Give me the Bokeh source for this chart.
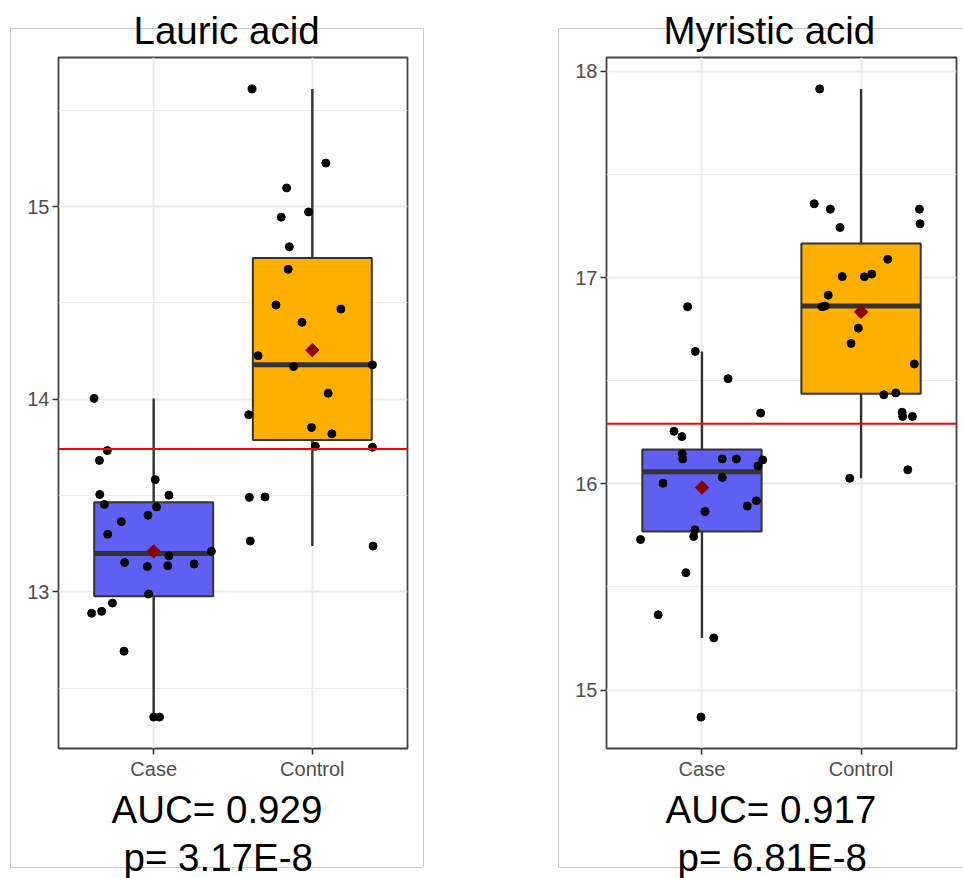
import numpy as np
from bokeh.plotting import figure
from bokeh.layouts import row
from bokeh.models import (FixedTicker, Span, Title, Range1d, ColumnDataSource)
from bokeh.embed import file_html
from bokeh.resources import INLINE

# ---------------- data ----------------
groups = ["Case", "Control"]

lauric_case = [14.004, 13.733, 13.682, 13.582, 13.505, 13.501, 13.453, 13.440,
               13.397, 13.364, 13.298, 13.210, 13.186, 13.152, 13.144, 13.131,
               13.135, 12.988, 12.941, 12.898, 12.888, 12.691, 12.349, 12.349]
lauric_case_jitter = [-0.376, -0.292, -0.342, 0.010, -0.340, 0.096, -0.311, 0.018,
                      -0.036, -0.204, -0.290, 0.364, 0.096, -0.183, 0.255, -0.040,
                      0.089, -0.032, -0.260, -0.328, -0.391, -0.187, 0.000, 0.037]
lauric_control = [15.611, 15.226, 15.097, 14.945, 14.972, 14.791, 14.674, 14.489,
                  14.468, 14.399, 14.226, 14.169, 14.178, 14.031, 13.919, 13.853,
                  13.820, 13.755, 13.750, 13.490, 13.492, 13.263, 13.237]
lauric_control_jitter = [-0.380, 0.085, -0.162, -0.196, -0.024, -0.145, -0.152, -0.229,
                         0.180, -0.065, -0.342, -0.118, 0.379, 0.100, -0.401, -0.005,
                         0.123, 0.019, 0.379, -0.397, -0.298, -0.391, 0.383]
lauric_cutoff = 13.741

myristic_case = [16.859, 16.642, 16.510, 16.343, 16.255, 16.229, 16.145, 16.121,
                 16.121, 16.121, 16.116, 16.087, 16.031, 16.003, 15.892, 15.918,
                 15.866, 15.777, 15.745, 15.730, 15.569, 15.365, 15.253, 14.869]
myristic_case_jitter = [-0.090, -0.042, 0.164, 0.369, -0.176, -0.126, -0.124, -0.121,
                        0.128, 0.216, 0.382, 0.352, 0.128, -0.245, 0.285, 0.342,
                        0.019, -0.044, -0.052, -0.386, -0.101, -0.275, 0.074, -0.006]
myristic_control = [17.915, 17.358, 17.332, 17.243, 17.332, 17.261, 17.089, 17.005,
                    17.004, 17.017, 16.915, 16.859, 16.862, 16.755, 16.681, 16.581,
                    16.432, 16.441, 16.347, 16.327, 16.327, 16.027, 16.068]
myristic_control_jitter = [-0.260, -0.294, -0.193, -0.132, 0.367, 0.371, 0.168, -0.118,
                           0.021, 0.067, -0.206, -0.245, -0.226, -0.017, -0.063, 0.335,
                           0.143, 0.218, 0.258, 0.262, 0.323, -0.071, 0.294]
myristic_cutoff = 16.291

lauric_ticks = [13, 14, 15]
lauric_minor = [12.5, 13.5, 14.5, 15.5]
myristic_ticks = [15, 16, 17, 18]
myristic_minor = [14.5, 15.5, 16.5, 17.5]

titles = ["Lauric acid", "Myristic acid"]
auc_texts = ["AUC= 0.929", "AUC= 0.917"]
p_texts = ["p= 3.17E-8", "p= 6.81E-8"]

# ---------------- style ----------------
CASE_COLOR = "#5F5FF2"
CTRL_COLOR = "#FFAF00"
DARK = "#333333"
FONT = "Liberation Sans"
BOX_WIDTH = 0.75


def gray_frame_css(x0, y0, w, h):
    g = "linear-gradient(#CCCCCC,#CCCCCC)"
    return {
        "background-color": "white",
        "background-image": ",".join([g] * 4),
        "background-size": f"{w}px 1px,{w}px 1px,1px {h}px,1px {h}px",
        "background-position": f"{x0}px {y0}px,{x0}px {y0 + h}px,{x0}px {y0}px,{x0 + w}px {y0}px",
        "background-repeat": "no-repeat",
    }


def make_panel(case_vals, case_jit, ctrl_vals, ctrl_jit, cutoff, ticks, minor,
               title, auc, pval, width, b_left, b_right, offsets, frame_css):
    allv = np.array(case_vals + ctrl_vals)
    lo, hi = allv.min(), allv.max()
    pad = 0.05 * (hi - lo)
    p = figure(width=width, height=878,
               x_range=Range1d(0.4, 2.6), y_range=Range1d(lo - pad, hi + pad),
               output_backend="svg", toolbar_location=None,
               min_border_left=b_left, min_border_right=b_right,
               min_border_top=57, min_border_bottom=130)
    p.background_fill_color = "white"
    p.border_fill_color = None
    p.border_fill_alpha = 0
    p.outline_line_color = "#444444"
    p.outline_line_width = 1.8
    p.styles = frame_css

    # axes
    p.xaxis.ticker = FixedTicker(ticks=[1, 2])
    p.xaxis.major_label_overrides = {1: groups[0], 2: groups[1]}
    p.yaxis.ticker = FixedTicker(ticks=ticks, minor_ticks=minor)
    for ax in (p.xaxis[0], p.yaxis[0]):
        ax.axis_line_color = None
        ax.major_tick_line_color = DARK
        ax.major_tick_line_width = 1.6
        ax.major_tick_out = 6
        ax.major_tick_in = 0
        ax.minor_tick_line_color = None
        ax.major_label_text_font = FONT
        ax.major_label_text_font_size = "20px"
        ax.major_label_text_color = "#4D4D4D"
        ax.major_label_standoff = 3

    # grid
    p.xgrid.grid_line_color = "#EBEBEB"
    p.xgrid.grid_line_width = 2
    p.ygrid.grid_line_color = "#EBEBEB"
    p.ygrid.grid_line_width = 2
    p.ygrid.minor_grid_line_color = "#EBEBEB"
    p.ygrid.minor_grid_line_width = 1.2

    # box statistics
    xs, q1s, meds, q3s, wlos, whis, means, fills = [], [], [], [], [], [], [], []
    for xc, vals, col in [(1, case_vals, CASE_COLOR), (2, ctrl_vals, CTRL_COLOR)]:
        v = np.array(vals)
        q1, med, q3 = np.percentile(v, [25, 50, 75])
        iqr = q3 - q1
        xs.append(xc)
        q1s.append(q1)
        meds.append(med)
        q3s.append(q3)
        wlos.append(v[v >= q1 - 1.5 * iqr].min())
        whis.append(v[v <= q3 + 1.5 * iqr].max())
        means.append(v.mean())
        fills.append(col)
    src = ColumnDataSource(dict(
        x=xs, q1=q1s, med=meds, q3=q3s, wlo=wlos, whi=whis, mean=means,
        fill=fills,
        xl=[x - BOX_WIDTH / 2 for x in xs], xr=[x + BOX_WIDTH / 2 for x in xs]))

    p.segment(x0="x", y0="q3", x1="x", y1="whi", source=src,
              line_color=DARK, line_width=2.4)
    p.segment(x0="x", y0="wlo", x1="x", y1="q1", source=src,
              line_color=DARK, line_width=2.4)
    p.vbar(x="x", width=BOX_WIDTH, top="q3", bottom="q1", source=src,
           fill_color="fill", line_color=DARK, line_width=2)
    p.segment(x0="xl", y0="med", x1="xr", y1="med", source=src,
              line_color=DARK, line_width=5)

    p.add_layout(Span(location=cutoff, dimension="width", line_color="#FF0000",
                      line_width=2))

    # jittered points
    pts = ColumnDataSource(dict(
        x=[1 + j for j in case_jit] + [2 + j for j in ctrl_jit],
        y=list(case_vals) + list(ctrl_vals)))
    p.scatter(x="x", y="y", source=pts, size=8, fill_color="black",
              line_color="black")

    # means
    p.scatter(x="x", y="mean", source=src, marker="square", angle=np.pi / 4,
              size=9.5, fill_color="#8B0000", line_color="#8B0000")

    # title and footer texts
    common = dict(text_font=FONT, text_font_size="38.5px", text_font_style="normal",
                  text_color="black", align="left")
    p.add_layout(Title(text=title, offset=offsets[0], standoff=12, **common), "above")
    p.add_layout(Title(text=auc, offset=offsets[1], standoff=6, **common), "below")
    p.add_layout(Title(text=pval, offset=offsets[2], standoff=0, **common), "below")
    return p


p1 = make_panel(lauric_case, lauric_case_jitter, lauric_control, lauric_control_jitter,
                lauric_cutoff, lauric_ticks, lauric_minor,
                titles[0], auc_texts[0], p_texts[0],
                width=490, b_left=58, b_right=83, offsets=(75, 53, 65),
                frame_css=gray_frame_css(10, 28, 413, 839))
p2 = make_panel(myristic_case, myristic_case_jitter, myristic_control,
                myristic_control_jitter, myristic_cutoff, myristic_ticks, myristic_minor,
                titles[1], auc_texts[1], p_texts[1],
                width=473, b_left=116, b_right=7, offsets=(57, 59, 71),
                frame_css=gray_frame_css(68, 28, 420, 839))

layout = row(p1, p2)
open("out.html", "w").write(file_html(layout, INLINE))
